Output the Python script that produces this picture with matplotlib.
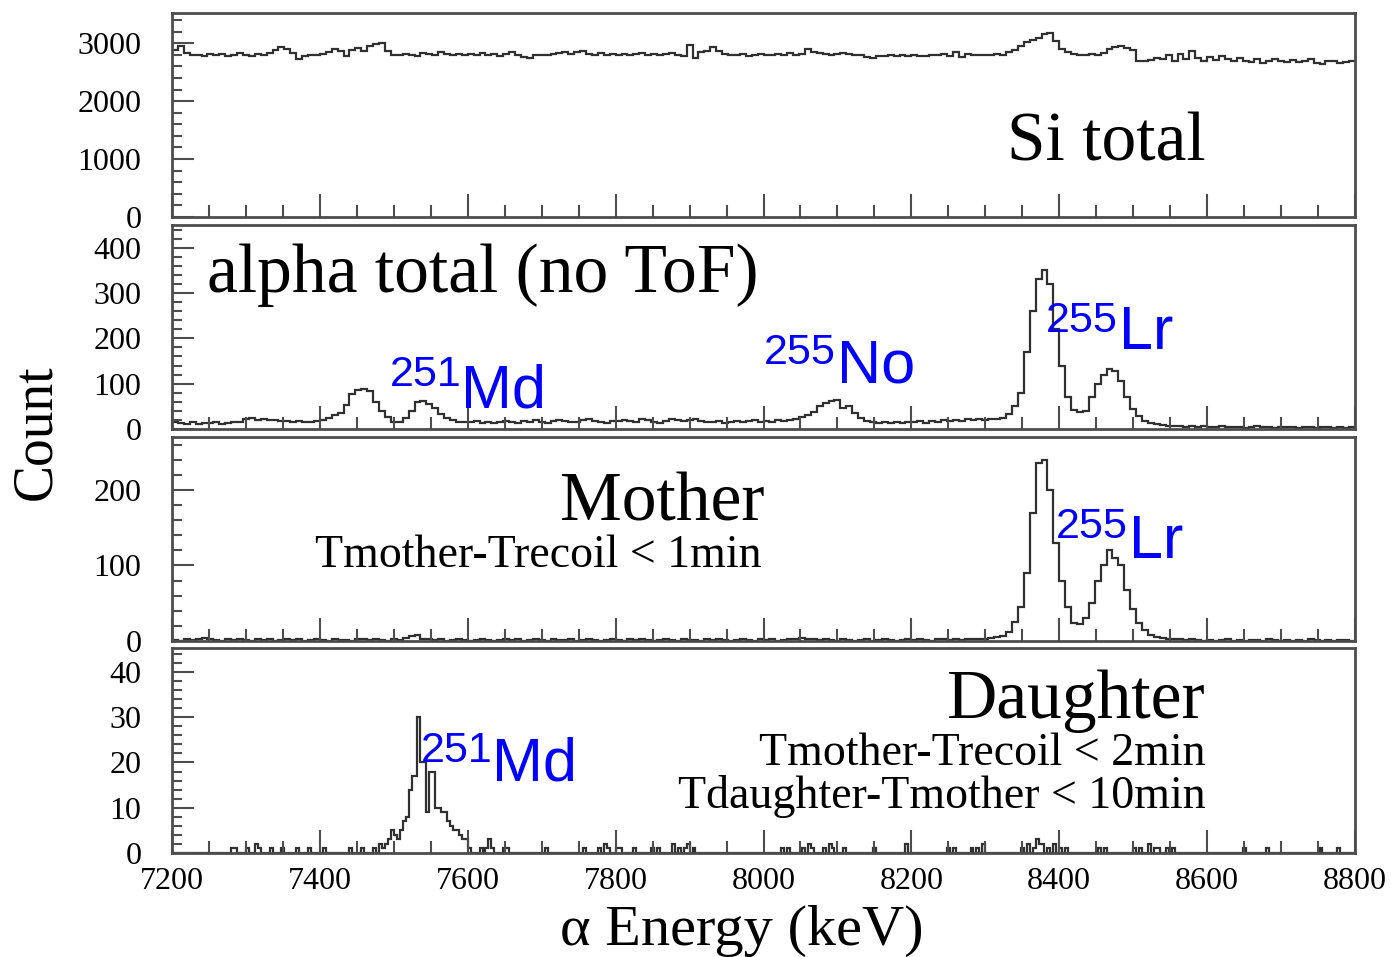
import numpy as np
import matplotlib.pyplot as plt
from matplotlib.ticker import MultipleLocator

plt.rcParams['font.family'] = 'Liberation Serif'

# energy axis (keV) and histogram binning
e_min, e_max = 7200, 8800
coarse_bin = 8   # Si / alpha / mother spectra
fine_bin = 4     # daughter spectrum

si_total = [
    2880, 2950, 2830, 2790, 2800, 2770, 2810, 2790, 2820, 2780, 2800, 2830, 2800, 2780, 2810, 2790, 2830, 2880, 2930, 2900, 2830, 2720, 2780, 2800, 2790,
    2810, 2840, 2900, 2860, 2780, 2880, 2920, 2870, 2950, 2990, 3010, 2870, 2800, 2790, 2820, 2800, 2780, 2830, 2810, 2800, 2840, 2810, 2790, 2820, 2800,
    2810, 2790, 2830, 2800, 2820, 2780, 2810, 2840, 2800, 2760, 2740, 2790, 2800, 2800, 2810, 2830, 2850, 2820, 2840, 2860, 2810, 2800, 2830, 2790, 2820,
    2800, 2820, 2790, 2810, 2830, 2800, 2810, 2790, 2820, 2830, 2800, 2780, 2960, 2740, 2850, 2870, 2930, 2860, 2810, 2800, 2790, 2810, 2780, 2800, 2810,
    2800, 2790, 2810, 2790, 2830, 2800, 2820, 2900, 2850, 2830, 2820, 2800, 2810, 2830, 2810, 2790, 2800, 2760, 2750, 2780, 2770, 2800, 2780, 2790, 2770,
    2790, 2780, 2770, 2800, 2790, 2810, 2780, 2840, 2760, 2820, 2790, 2800, 2800, 2790, 2810, 2790, 2840, 2880, 2950, 3020, 3050, 3090, 3150, 3170, 3040,
    2900, 2850, 2820, 2800, 2790, 2810, 2800, 2830, 2900, 2930, 2950, 2920, 2880, 2700, 2690, 2710, 2740, 2720, 2790, 2700, 2820, 2720, 2860, 2740, 2700,
    2760, 2710, 2780, 2720, 2690, 2740, 2700, 2680, 2720, 2650, 2700, 2730, 2690, 2670, 2710, 2680, 2700, 2720, 2660, 2640, 2690, 2700, 2650, 2680, 2700,
]

alpha_total = [
    16, 13, 12, 15, 11, 14, 13, 15, 12, 14, 16, 15, 22, 24, 20, 21, 20, 19, 18, 17, 16, 17, 15, 16, 18,
    20, 24, 30, 36, 52, 78, 86, 88, 84, 60, 40, 26, 16, 16, 24, 40, 60, 62, 55, 46, 32, 24, 20, 16, 15,
    15, 17, 14, 16, 13, 15, 18, 16, 14, 17, 15, 19, 16, 14, 18, 20, 17, 15, 16, 19, 21, 18, 16, 14, 17,
    18, 20, 17, 15, 22, 19, 16, 14, 18, 21, 19, 17, 20, 22, 18, 16, 15, 17, 14, 16, 18, 15, 17, 20, 16,
    18, 16, 19, 17, 20, 22, 26, 30, 38, 50, 58, 62, 64, 46, 50, 36, 25, 18, 15, 14, 16, 13, 15, 14, 16,
    15, 17, 14, 18, 16, 19, 17, 20, 18, 21, 19, 22, 20, 21, 23, 24, 32, 50, 80, 170, 260, 330, 350, 320, 220,
    140, 70, 42, 38, 40, 70, 100, 120, 132, 128, 105, 70, 45, 28, 18, 13, 10, 8, 7, 6, 7, 5, 6, 5, 6,
    5, 4, 6, 5, 4, 5, 3, 4, 6, 4, 5, 3, 4, 5, 4, 3, 5, 4, 3, 4, 5, 3, 4, 3, 4,
]

mother = [
    1, 0, 2, 1, 3, 4, 2, 1, 0, 2, 1, 3, 1, 0, 2, 1, 2, 0, 1, 3, 1, 2, 0, 1, 2,
    1, 0, 2, 1, 1, 0, 2, 3, 1, 2, 1, 0, 2, 1, 4, 6, 8, 3, 2, 1, 2, 0, 1, 2, 1,
    0, 1, 2, 1, 0, 1, 3, 1, 2, 0, 1, 2, 1, 0, 2, 1, 1, 3, 0, 1, 2, 1, 0, 1, 2,
    1, 0, 2, 1, 3, 1, 0, 1, 2, 1, 0, 2, 1, 1, 0, 2, 1, 3, 1, 0, 1, 2, 1, 0, 2,
    1, 2, 0, 1, 3, 2, 4, 3, 2, 1, 2, 1, 0, 2, 1, 0, 1, 2, 0, 1, 2, 1, 0, 1, 2,
    1, 2, 1, 0, 2, 3, 1, 2, 1, 3, 2, 3, 3, 4, 5, 7, 12, 25, 45, 90, 170, 235, 240, 200, 130,
    80, 45, 24, 22, 30, 50, 80, 100, 120, 110, 100, 68, 42, 24, 14, 8, 5, 4, 3, 2, 2, 1, 2, 1, 0,
    1, 0, 1, 2, 0, 1, 0, 1, 1, 0, 2, 1, 0, 1, 0, 1, 0, 2, 1, 0, 1, 0, 1, 1, 0,
]

daughter = [
    0, 0, 0, 0, 0, 0, 0, 0, 0, 0, 0, 0, 0, 0, 0, 0, 0, 0, 0, 0,
    1, 1, 0, 0, 0, 1, 0, 0, 2, 1, 0, 0, 0, 1, 0, 0, 0, 1, 0, 0,
    0, 0, 1, 0, 0, 0, 1, 0, 0, 0, 0, 1, 0, 0, 0, 0, 0, 0, 0, 0,
    1, 0, 0, 0, 1, 0, 0, 0, 1, 0, 2, 1, 2, 3, 5, 4, 3, 5, 7, 8,
    14, 17, 17, 30, 20, 20, 9, 18, 18, 10, 10, 9, 9, 7, 6, 5, 5, 4, 3, 3,
    1, 0, 0, 0, 1, 0, 1, 3, 1, 0, 0, 0, 1, 1, 0, 0, 0, 0, 0, 0,
    0, 0, 0, 0, 0, 0, 1, 0, 0, 0, 0, 0, 0, 0, 0, 0, 0, 0, 0, 1,
    0, 0, 0, 0, 1, 0, 2, 1, 0, 0, 1, 1, 0, 0, 0, 0, 1, 0, 0, 0,
    0, 0, 1, 0, 1, 0, 0, 0, 0, 2, 0, 1, 0, 1, 2, 0, 1, 0, 0, 0,
    0, 0, 0, 0, 0, 0, 0, 0, 0, 0, 0, 0, 0, 0, 0, 0, 0, 0, 0, 0,
    0, 0, 0, 0, 0, 0, 1, 0, 1, 0, 0, 0, 0, 1, 0, 2, 1, 0, 0, 0,
    1, 0, 2, 1, 0, 0, 0, 1, 0, 0, 0, 0, 0, 0, 0, 0, 0, 1, 0, 0,
    0, 0, 0, 0, 0, 0, 0, 0, 2, 0, 0, 0, 0, 0, 0, 0, 0, 0, 0, 0,
    0, 0, 1, 0, 1, 0, 0, 0, 0, 0, 1, 0, 1, 0, 2, 0, 0, 0, 0, 0,
    0, 0, 0, 0, 0, 0, 0, 1, 0, 2, 0, 1, 3, 2, 2, 0, 1, 0, 2, 0,
    1, 0, 1, 0, 0, 0, 0, 0, 0, 0, 0, 0, 0, 1, 0, 1, 0, 0, 0, 0,
    0, 0, 0, 0, 0, 1, 0, 1, 0, 0, 2, 0, 1, 1, 0, 0, 1, 0, 1, 0,
    0, 0, 0, 0, 0, 0, 0, 0, 0, 0, 0, 0, 0, 0, 0, 0, 0, 0, 0, 0,
    0, 0, 1, 0, 0, 0, 0, 0, 0, 0, 1, 0, 0, 0, 0, 0, 0, 0, 0, 0,
    0, 0, 0, 0, 0, 0, 0, 0, 1, 0, 0, 0, 0, 0, 1, 0, 0, 0, 0, 0,
]

coarse_edges = np.arange(e_min, e_max + 1, coarse_bin)
fine_edges = np.arange(e_min, e_max + 1, fine_bin)

# (counts, edges, y max, major step, minor step)
panels = [
    (si_total, coarse_edges, 3520, 1000, 200),
    (alpha_total, coarse_edges, 450, 100, 20),
    (mother, coarse_edges, 270, 100, 20),
    (daughter, fine_edges, 45.3, 10, 2),
]

frame_col = '#4d4d4d'
line_col = '#303030'

fig = plt.figure(figsize=(13.91, 9.57), dpi=100)
left, width = 172 / 1391, 1183 / 1391
tops = [13, 225, 437, 648]
bots = [217, 429, 641, 853]

axes = []
for (counts, edges, ymax, major, minor), top, bot in zip(panels, tops, bots):
    ax = fig.add_axes([left, (957 - bot) / 957, width, (bot - top) / 957])
    ax.stairs(counts, edges, baseline=None, color=line_col, lw=1.6)
    ax.set_xlim(e_min, e_max)
    ax.set_ylim(0, ymax)
    ax.xaxis.set_major_locator(MultipleLocator(200))
    ax.xaxis.set_minor_locator(MultipleLocator(50))
    ax.yaxis.set_major_locator(MultipleLocator(major))
    ax.yaxis.set_minor_locator(MultipleLocator(minor))
    ax.tick_params(which='both', direction='in', top=False, right=False,
                   color=frame_col, width=1.5, labelsize=23)
    ax.tick_params(axis='x', which='major', length=16.5, pad=10)
    ax.tick_params(axis='x', which='minor', length=8.5)
    ax.tick_params(axis='y', which='major', length=16, pad=22)
    ax.tick_params(axis='y', which='minor', length=7.5)
    for sp in ax.spines.values():
        sp.set_color(frame_col)
        sp.set_linewidth(2)
    if bot != bots[-1]:
        ax.tick_params(axis='x', labelbottom=False)
    axes.append(ax)

ax1, ax2, ax3, ax4 = axes

# panel titles
ax1.text(8598, 983, 'Si total', fontsize=50, ha='right', va='baseline')
ax2.text(7247, 303, 'alpha total (no ToF)', fontsize=50, ha='left', va='baseline')
ax3.text(8002, 160, 'Mother', fontsize=50, ha='right', va='baseline')
ax3.text(7998, 98, 'Tmother-Trecoil < 1min', fontsize=33, ha='right', va='baseline')
ax4.text(8598, 29.8, 'Daughter', fontsize=50, ha='right', va='baseline')
ax4.text(8598, 19.4, 'Tmother-Trecoil < 2min', fontsize=33, ha='right', va='baseline')
ax4.text(8598, 9.9, 'Tdaughter-Tmother < 10min', fontsize=33, ha='right', va='baseline')

# isotope labels
iso = dict(color='#0000ff', family='Liberation Sans', va='baseline')
def isotope(ax, x_mass, y_mass, mass, x_sym, y_sym, sym):
    ax.text(x_mass, y_mass, mass, fontsize=31, **iso)
    ax.text(x_sym, y_sym, sym, fontsize=44, **iso)

isotope(ax2, 7494, 94, '251', 7591, 48, 'Md')
isotope(ax2, 8001, 143, '255', 8100, 103, 'No')
isotope(ax2, 8382, 215, '255', 8481, 176, 'Lr')
isotope(ax3, 8395, 136, '255', 8495, 110, 'Lr')
isotope(ax4, 7537, 20.1, '251', 7633, 16.1, 'Md')

fig.text(36 / 1391, 1 - 432 / 957, 'Count', fontsize=40, rotation=90,
         ha='center', va='center')
fig.text(742 / 1391, 1 - 945 / 957, 'α Energy (keV)', fontsize=42,
         ha='center', va='baseline')

fig.savefig('out.png', dpi=100)
